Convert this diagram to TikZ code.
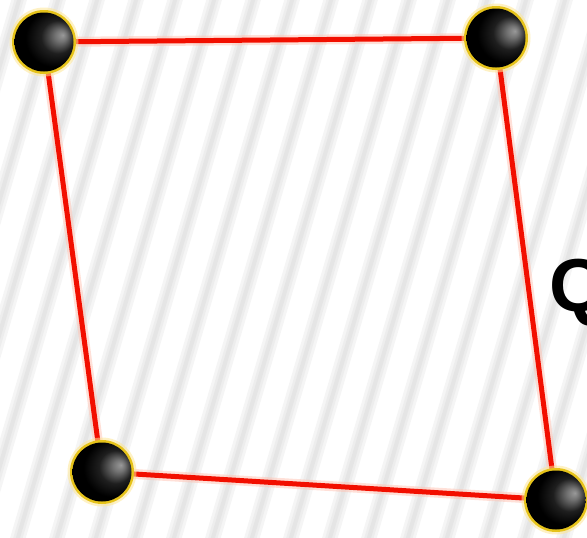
\documentclass[tikz,border=0pt]{standalone}
\usepackage{fontspec}
\setmainfont{Liberation Sans}
\pgfdeclareradialshading{blackball}{\pgfpoint{16bp}{6bp}}{%
  color(0bp)=(black!40);
  color(5bp)=(black!55);
  color(14bp)=(black!88);
  color(24bp)=(black);
  color(50bp)=(black)}
\tikzset{
  stripe/.style={line width=15pt, black!4, line cap=butt},
  stripemid/.style={line width=9pt, black!7},
  stripecore/.style={line width=4pt, black!10},
  edgeglow/.style={line width=10pt, orange!40!red!30, opacity=0.5},
  edgeline/.style={line width=5pt, red!88!orange!95!black},
  ball/.style={circle, minimum size=59pt, inner sep=0pt, shading=blackball},
  rimglow/.style={fill=yellow!60!orange!40, opacity=0.55},
  rim/.style={fill=yellow!70!orange!90!black}
}
\begin{document}
\begin{tikzpicture}[x=1pt,y=-1pt]
\useasboundingbox (0,0) rectangle (587,538);
\fill[white] (0,0) rectangle (587,538);
\begin{scope}
\clip (0,0) rectangle (587,538);
\foreach \k in {-1,...,20} {
  \draw[stripe] ({22+39*\k},-10) -- ({22+39*\k-163},548);
  \draw[stripemid] ({22+39*\k},-10) -- ({22+39*\k-163},548);
  \draw[stripecore] ({22+39*\k},-10) -- ({22+39*\k-163},548);
}
\end{scope}
\coordinate (tl) at (44,42);
\coordinate (tr) at (496,38);
\coordinate (bl) at (102,472);
\coordinate (br) at (556,500);
\draw[edgeglow] (tl) -- (tr) -- (br) -- (bl) -- cycle;
\draw[edgeline] (tl) -- (tr) -- (br) -- (bl) -- cycle;
\foreach \p in {tl,tr,bl,br} {
  \fill[rimglow] (\p) circle (34.5);
  \fill[rim] (\p) circle (32);
  \node[ball] (b\p) at (\p) {};
}
\node[anchor=base west, inner sep=0pt, font=\bfseries\fontsize{75}{75}\selectfont] (q) at (549,311) {Q};
\end{tikzpicture}
\end{document}
